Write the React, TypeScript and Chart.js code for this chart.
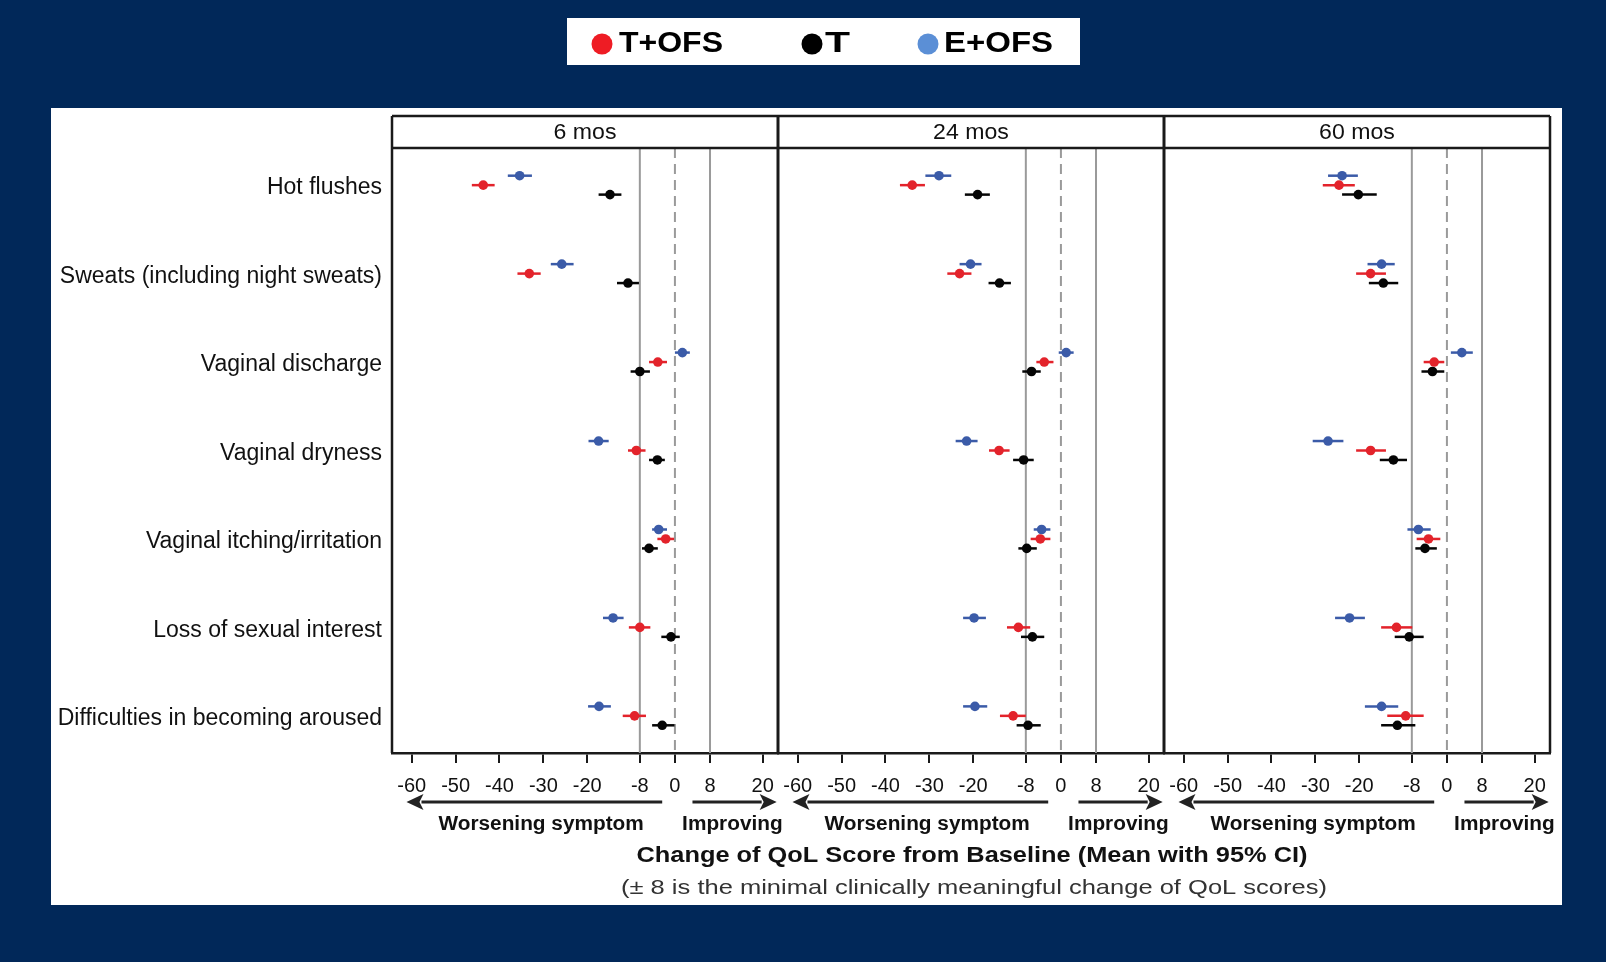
import React, { useEffect, useRef } from "react";
import { Chart, registerables } from "chart.js";

Chart.register(...registerables);

// ---------- data ----------
const categories = [
  "Hot flushes",
  "Sweats (including night sweats)",
  "Vaginal discharge",
  "Vaginal dryness",
  "Vaginal itching/irritation",
  "Loss of sexual interest",
  "Difficulties in becoming aroused",
];
const panelTitles = ["6 mos", "24 mos", "60 mos"];
const seriesNames = ["T+OFS", "T", "E+OFS"];
const xTickValues = [-60, -50, -40, -30, -20, -8, 0, 8, 20];
const refLineValues = [-8, 0, 8];

// each entry: [lower 95% CI, mean, upper 95% CI]
const tofs6 = [[-46.3, -43.7, -41.1], [-35.9, -33.2, -30.6], [-5.9, -3.9, -1.8], [-10.7, -8.8, -6.7], [-4.0, -2.1, -0.2], [-10.5, -8.0, -5.6], [-11.9, -9.2, -6.6]];
const t6 = [[-17.4, -14.8, -12.2], [-13.2, -10.7, -8.2], [-10.1, -8.0, -5.7], [-5.9, -4.0, -2.3], [-7.5, -5.9, -3.9], [-3.1, -0.9, 1.1], [-5.2, -2.9, -0.1]];
const eofs6 = [[-38.1, -35.4, -32.6], [-28.3, -25.8, -23.1], [0.0, 1.7, 3.4], [-19.7, -17.4, -15.1], [-5.2, -3.7, -1.8], [-16.4, -14.1, -11.7], [-19.8, -17.3, -14.6]];

const tofs24 = [[-36.7, -33.9, -31.0], [-25.9, -23.1, -20.4], [-5.6, -3.8, -1.7], [-16.4, -14.1, -11.7], [-6.9, -4.7, -2.4], [-12.3, -9.7, -7.0], [-13.9, -10.9, -8.0]];
const t24 = [[-21.9, -19.0, -16.2], [-16.5, -14.0, -11.4], [-8.8, -6.7, -4.6], [-10.9, -8.5, -6.2], [-9.7, -7.8, -5.5], [-9.1, -6.5, -3.8], [-10.1, -7.5, -4.6]];
const eofs24 = [[-30.9, -27.8, -25.0], [-23.1, -20.6, -18.1], [-0.5, 1.2, 2.9], [-24.0, -21.5, -19.0], [-6.2, -4.4, -2.4], [-22.3, -19.8, -17.1], [-22.3, -19.6, -16.8]];

const tofs60 = [[-28.3, -24.6, -21.0], [-20.7, -17.4, -13.9], [-5.3, -2.9, -0.6], [-20.7, -17.4, -13.9], [-6.9, -4.2, -1.5], [-15.0, -11.5, -7.9], [-13.6, -9.4, -5.3]];
const t60 = [[-23.9, -20.2, -16.0], [-17.8, -14.5, -11.1], [-5.8, -3.3, -0.6], [-15.3, -12.2, -9.1], [-7.2, -5.0, -2.3], [-11.9, -8.6, -5.3], [-15.0, -11.3, -7.2]];
const eofs60 = [[-27.1, -23.9, -20.3], [-18.1, -14.9, -11.9], [0.9, 3.4, 5.9], [-30.6, -27.1, -23.6], [-9.0, -6.5, -3.7], [-25.5, -22.2, -18.7], [-18.7, -14.9, -11.1]];

const panelData = [
  [tofs6, t6, eofs6],
  [tofs24, t24, eofs24],
  [tofs60, t60, eofs60],
];

// ---------- styling ----------
const W = 1606;
const H = 962;
const NAVY = "#012859";
const FONT = "'Liberation Sans', Arial, Helvetica, sans-serif";
const pointColors = ["#e3232b", "#050505", "#3b5ba8"];
const legendColors = ["#ee1c24", "#000000", "#5b8fd6"];
const rowOffsets = [0, 0.107, -0.107]; // T+OFS middle, T below, E+OFS above

function drawText(ctx: CanvasRenderingContext2D, text: string, x: number, y: number, size: number, weight: string, color: string, align: CanvasTextAlign, sx = 1, targetW = 0) {
  ctx.save();
  ctx.font = `${weight} ${size}px ${FONT}`;
  let scaleX = sx;
  if (targetW > 0) scaleX = targetW / ctx.measureText(text).width;
  ctx.translate(x, y);
  ctx.scale(scaleX, 1);
  ctx.fillStyle = color;
  ctx.textAlign = align;
  ctx.textBaseline = "middle";
  ctx.fillText(text, 0, 0);
  ctx.restore();
}

function arrow(ctx: CanvasRenderingContext2D, x1: number, x2: number, y: number, headAtLeft: boolean) {
  ctx.save();
  ctx.strokeStyle = "#222";
  ctx.fillStyle = "#222";
  ctx.lineWidth = 3;
  const hl = 17;
  const hh = 8;
  ctx.beginPath();
  if (headAtLeft) {
    ctx.moveTo(x1 + hl - 2, y);
    ctx.lineTo(x2, y);
  } else {
    ctx.moveTo(x1, y);
    ctx.lineTo(x2 - hl + 2, y);
  }
  ctx.stroke();
  ctx.beginPath();
  if (headAtLeft) {
    ctx.moveTo(x1, y);
    ctx.lineTo(x1 + hl, y - hh);
    ctx.lineTo(x1 + hl - 4, y);
    ctx.lineTo(x1 + hl, y + hh);
  } else {
    ctx.moveTo(x2, y);
    ctx.lineTo(x2 - hl, y - hh);
    ctx.lineTo(x2 - hl + 4, y);
    ctx.lineTo(x2 - hl, y + hh);
  }
  ctx.closePath();
  ctx.fill();
  ctx.restore();
}

const xIds = ["x0", "x1", "x2"];

const backgroundPlugin = {
  id: "bgDecor",
  beforeDraw(chart: any) {
    const ctx = chart.ctx as CanvasRenderingContext2D;
    ctx.save();
    ctx.fillStyle = NAVY;
    ctx.fillRect(0, 0, W, H);
    ctx.fillStyle = "#ffffff";
    ctx.fillRect(51, 108, 1511, 797);
    // legend box
    ctx.fillRect(567, 18, 513, 47);
    ctx.restore();
    const items = [
      { dot: 602, tx: 619, w: 104 },
      { dot: 812, tx: 825, w: 25 },
      { dot: 928, tx: 944, w: 109 },
    ];
    items.forEach((it, i) => {
      ctx.save();
      ctx.fillStyle = legendColors[i];
      ctx.beginPath();
      ctx.arc(it.dot, 44, 10.5, 0, Math.PI * 2);
      ctx.fill();
      ctx.restore();
      drawText(ctx, seriesNames[i], it.tx, 44, 29, "bold", "#000", "left", 1, it.w);
    });
  },
};

const refLinesPlugin = {
  id: "refLines",
  beforeDatasetsDraw(chart: any) {
    const ctx = chart.ctx as CanvasRenderingContext2D;
    const area = chart.chartArea;
    xIds.forEach((id) => {
      const sc = chart.scales[id];
      refLineValues.forEach((v) => {
        const px = sc.getPixelForValue(v);
        ctx.save();
        ctx.strokeStyle = "#9a9a9a";
        ctx.lineWidth = 2;
        if (v === 0) ctx.setLineDash([10, 6]);
        ctx.beginPath();
        ctx.moveTo(px, area.top);
        ctx.lineTo(px, area.bottom);
        ctx.stroke();
        ctx.restore();
      });
    });
  },
};

const errorBarsPlugin = {
  id: "errorBars",
  beforeDatasetsDraw(chart: any) {
    const ctx = chart.ctx as CanvasRenderingContext2D;
    const ys = chart.scales.y;
    chart.data.datasets.forEach((ds: any) => {
      const xs = chart.scales[ds.xAxisID];
      ctx.save();
      ctx.strokeStyle = ds.backgroundColor;
      ctx.lineWidth = 2.5;
      ds.ci.forEach((c: number[], i: number) => {
        const py = ys.getPixelForValue(ds.data[i].y);
        ctx.beginPath();
        ctx.moveTo(xs.getPixelForValue(c[0]), py);
        ctx.lineTo(xs.getPixelForValue(c[2]), py);
        ctx.stroke();
      });
      ctx.restore();
    });
  },
};

const framePlugin = {
  id: "frame",
  afterDraw(chart: any) {
    const ctx = chart.ctx as CanvasRenderingContext2D;
    const area = chart.chartArea;
    const headTop = 116;
    ctx.save();
    ctx.strokeStyle = "#1a1a1a";
    ctx.lineWidth = 2.5;
    ctx.beginPath();
    ctx.moveTo(area.left, headTop);
    ctx.lineTo(area.right, headTop);
    ctx.moveTo(area.left, area.top);
    ctx.lineTo(area.right, area.top);
    ctx.stroke();
    xIds.forEach((id, i) => {
      const sc = chart.scales[id];
      ctx.lineWidth = i === 0 ? 2.5 : 3;
      ctx.beginPath();
      ctx.moveTo(sc.left, headTop);
      ctx.lineTo(sc.left, area.bottom);
      ctx.stroke();
      if (i === xIds.length - 1) {
        ctx.lineWidth = 2.5;
        ctx.beginPath();
        ctx.moveTo(sc.right, headTop);
        ctx.lineTo(sc.right, area.bottom);
        ctx.stroke();
      }
    });
    ctx.restore();

    xIds.forEach((id, i) => {
      const sc = chart.scales[id];
      drawText(ctx, panelTitles[i], (sc.left + sc.right) / 2, (headTop + area.top) / 2 + 1, 22, "normal", "#111", "center", 1.05);
      const ay = 802;
      arrow(ctx, sc.getPixelForValue(-61.2), sc.getPixelForValue(-2.9), ay, true);
      arrow(ctx, sc.getPixelForValue(4.0), sc.getPixelForValue(23.2), ay, false);
      drawText(ctx, "Worsening symptom", sc.getPixelForValue(-30.5), 824, 20, "bold", "#111", "center", 1.04);
      drawText(ctx, "Improving", sc.getPixelForValue(13.1), 824, 20, "bold", "#111", "center", 1.04);
    });
    drawText(ctx, "Change of QoL Score from Baseline (Mean with 95% CI)", 972, 856, 22, "bold", "#111", "center", 1, 671);
    drawText(ctx, "(\u00B1 8 is the minimal clinically meaningful change of QoL scores)", 974, 888, 21, "normal", "#333", "center", 1, 706);
  },
};

export default function App() {
  const ref = useRef<HTMLCanvasElement | null>(null);

  useEffect(() => {
    document.body.style.margin = "0";
    document.body.style.overflow = "hidden";
    const canvas = ref.current;
    if (!canvas) return;

    const datasets: any[] = [];
    panelData.forEach((panel, p) => {
      panel.forEach((series, s) => {
        datasets.push({
          label: `${seriesNames[s]} ${panelTitles[p]}`,
          xAxisID: xIds[p],
          yAxisID: "y",
          data: series.map((c, i) => ({ x: c[1], y: i + rowOffsets[s] })),
          ci: series,
          backgroundColor: pointColors[s],
          borderColor: pointColors[s],
          borderWidth: 0,
          pointRadius: 4.8,
          pointHoverRadius: 4.8,
          showLine: false,
        });
      });
    });

    const xScale = (id: string) => ({
      type: "linear",
      position: "bottom",
      stack: "panels",
      stackWeight: 1,
      min: -64.5,
      max: 23.5,
      afterBuildTicks: (axis: any) => {
        axis.ticks = xTickValues.map((v) => ({ value: v }));
      },
      afterFit: (axis: any) => {
        axis.height = 45;
      },
      ticks: {
        autoSkip: false,
        maxRotation: 0,
        padding: 11,
        color: "#111",
        font: { family: FONT, size: 20 },
        callback: (v: any) => String(v),
      },
      grid: {
        display: true,
        drawOnChartArea: false,
        drawTicks: true,
        tickLength: 10,
        color: "#1a1a1a",
        lineWidth: 2,
      },
      border: { display: true, color: "#1a1a1a", width: 2.5 },
    });

    const scales: any = {
      y: {
        type: "linear",
        position: "left",
        reverse: true,
        min: -0.42,
        max: 6.42,
        afterBuildTicks: (axis: any) => {
          axis.ticks = categories.map((_, i) => ({ value: i }));
        },
        afterFit: (axis: any) => {
          axis.width = 337;
        },
        ticks: {
          autoSkip: false,
          padding: 10,
          labelOffset: 3,
          color: "#111",
          font: { family: FONT, size: 23 },
          callback: (v: any) => categories[Math.round(v)] ?? "",
        },
        grid: { display: false, drawTicks: false },
        border: { display: false },
      },
    };
    xIds.forEach((id) => {
      scales[id] = xScale(id);
    });

    const chart = new Chart(canvas, {
      type: "scatter",
      data: { datasets },
      options: {
        responsive: false,
        animation: false,
        devicePixelRatio: 1,
        layout: { padding: { left: 55, right: 56, top: 148, bottom: 164 } },
        plugins: {
          legend: { display: false },
          tooltip: { enabled: false },
          title: { display: false },
        },
        scales,
      } as any,
      plugins: [backgroundPlugin, refLinesPlugin, errorBarsPlugin, framePlugin],
    });

    return () => {
      chart.destroy();
    };
  }, []);

  return <canvas ref={ref} width={W} height={H} style={{ display: "block", width: W, height: H }} />;
}
